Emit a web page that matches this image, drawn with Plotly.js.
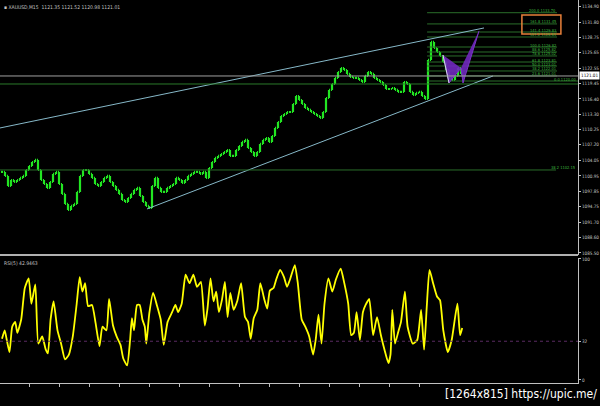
<!DOCTYPE html>
<html>
<head>
<meta charset="utf-8">
<script src="https://cdn.plot.ly/plotly-3.0.1.min.js"></script>
<style>html,body{margin:0;padding:0;background:#000;}#chart{width:600px;height:406px;}</style>
</head>
<body>
<div id="chart"></div>
<script>
// ---- data ----
const closes = [
1101.75,1100.95,1098.94,1100.14,1099.74,1100.14,1100.55,1100.95,1102.15,1102.95,
1103.75,1104.16,1102.15,1100.14,1099.34,1098.54,1099.74,1101.35,1101.75,1099.34,
1097.34,1095.33,1094.13,1094.93,1095.33,1097.74,1100.95,1102.15,1102.15,1101.35,
1100.55,1099.34,1098.94,1099.74,1100.55,1100.95,1099.74,1098.94,1098.14,1097.34,
1096.13,1095.73,1096.53,1097.34,1098.14,1098.54,1096.93,1095.73,1094.93,1094.53,
1098.94,1100.55,1098.54,1097.74,1097.74,1098.54,1098.94,1099.34,1100.55,1100.14,
1099.54,1100.14,1100.95,1101.35,1101.75,1101.75,1101.35,1101.75,1100.55,1102.55,
1103.75,1104.56,1104.96,1105.36,1105.76,1106.16,1104.96,1104.96,1106.16,1106.96,
1107.77,1108.17,1106.56,1105.76,1104.96,1105.76,1107.37,1108.17,1108.57,1107.77,
1108.97,1110.58,1111.78,1112.98,1113.38,1113.78,1113.78,1115.39,1116.99,1116.19,
1115.39,1114.59,1114.19,1113.78,1113.38,1112.98,1112.58,1113.78,1116.59,1118.20,
1119.40,1120.61,1121.81,1122.61,1122.21,1121.41,1120.81,1120.61,1120.61,1120.20,
1119.80,1121.01,1121.81,1121.41,1120.61,1120.20,1119.80,1119.20,1118.40,1118.40,
1118.60,1118.20,1117.80,1117.80,1119.80,1119.40,1117.80,1117.19,1117.60,1117.80,
1116.99,1116.39,1124.22,1127.83,1126.62,1125.82,1125.02,1123.81,1122.21,1120.61,
1120.20,1121.01,1122.61,1121.41];

const rsiBar = [
0,0.9,1.6,2.5,3.4,4.4,5.1,6.4,7.6,8.9,
9.8,11.1,12.1,13.4,14.6,15.3,16.2,17.2,18.5,19.7,
21,22.3,23.6,24.9,25.9,26.8,27.7,28.7,30,31.2,
32.5,33.5,34.8,35.7,37,38.2,39.5,40.4,41.7,42.7,
43.3,44,45,45.9,46.8,47.6,48.1,49.1,50.4,51.6,
52.9,53.9,55.2,56.7,57.8,58.7,59.9,61.2,62.5,63.8,
65,66.3,67.6,68.5,69.5,70.5,71.4,72.3,73.3,74.3,
75.2,76.1,77.2,78.4,79.7,81,82,82.9,83.9,85.1,
86.1,87.4,88.4,89.3,90.5,91.4,92.7,94,95,96,
97.6,98.6,99.9,101.1,102.4,103.7,104.6,105.5,106.5,107.5,
108.8,110.1,111.3,112.9,114.1,115.4,116.4,117.3,118.2,119.3,
120.3,121.2,122.4,123.7,125,126.3,127.5,128.8,129.5,130.1,
131,132,133,134.3,135.2,136.9,138.4,139.7,140.7,141.6,
142.5,143.7,145,146,147.1,148.6,149.9,151.8,152.7,153.4];
const rsiVal = [
34,41,33,23,44,48,39,50,76,84,
63,79,30,36,25,22,50,65,41,30,
17,21,36,63,85,73,80,61,62,47,
28,44,41,67,45,36,29,18,12,33,
51,41,62,62,50,44,30,55,72,62,
50,29,48,56,62,56,63,87,80,87,
77,81,45,59,84,65,73,56,66,81,
52,72,58,65,80,52,48,34,51,58,
80,67,59,74,76,83,91,85,77,83,
95,80,50,44,36,21,34,54,30,63,
84,73,83,92,80,63,37,39,56,33,
56,62,67,37,52,37,25,14,21,58,
30,39,48,73,44,30,33,58,25,61,
91,80,69,66,41,23,33,63,37,42.95];

const priceTicks = [1134.90,1131.80,1128.75,1125.65,1122.55,1119.45,1116.40,1113.30,1110.25,
  1107.20,1104.05,1100.95,1097.85,1094.75,1091.70,1088.60,1085.50];
const rsiTicks = [0,32,100];

const chanUpperX = [-0.67,160.67], chanUpperY = [1110.58,1130.64];
const chanLowerX = [48.33,163.67], chanLowerY = [1094.33,1121.01];

const fibNames  = ['200.0','161.8','141.4','127.2','100.0','88.6','78.6','61.8','50.0','38.2','23.6'];
const fibPrices = [1133.70,1131.45,1129.83,1128.83,1126.82,1125.82,1125.02,1123.81,1123.01,1122.01,1121.01];
const fibZeroName = '0.0', fibZeroPrice = 1120.00;
const fibStart = 141.7, fibEnd = 185;

const bidPrice = 1121.01;
const levelGreen = 1119.40;
const level382 = 1102.15;

const patX1 = [147,149,153], patY1 = [1125.22,1119.60,1122.61];
const patX2 = [153,153.67,159], patY2 = [1122.61,1119.60,1130.03];
const boxX = [173.3,186.3], boxY = [1129.43,1133.24];

// ---- build ----
const idx = closes.map((_, i) => i);
const opens = closes.map((c, i) => i === 0 ? c : closes[i - 1]);
const highs = closes.map((c, i) => Math.max(c, opens[i]));
const lows = closes.map((c, i) => Math.min(c, opens[i]));

const GREEN = '#22e622';
const traces = [];
traces.push({type:'ohlc', x:idx, open:opens, high:highs, low:lows, close:closes, xaxis:'x', yaxis:'y',
  increasing:{line:{color:GREEN,width:2.2}}, decreasing:{line:{color:GREEN,width:2.2}}, tickwidth:0.35, hoverinfo:'skip'});

const fibX = [], fibY = [];
fibPrices.forEach(p => { fibX.push(fibStart, fibEnd, null); fibY.push(p, p, null); });
traces.push({type:'scatter', mode:'lines', x:fibX, y:fibY, line:{color:'#2a6e2a',width:1}, xaxis:'x', yaxis:'y', hoverinfo:'skip'});
traces.push({type:'scatter', mode:'lines', x:[fibStart,192], y:[fibZeroPrice,fibZeroPrice], line:{color:'#2a6e2a',width:1}, xaxis:'x', yaxis:'y', hoverinfo:'skip'});

traces.push({type:'scatter', mode:'lines', x:chanUpperX, y:chanUpperY, line:{color:'#86b8c8',width:1}, xaxis:'x', yaxis:'y', hoverinfo:'skip'});
traces.push({type:'scatter', mode:'lines', x:chanLowerX, y:chanLowerY, line:{color:'#86b8c8',width:1}, xaxis:'x', yaxis:'y', hoverinfo:'skip'});

traces.push({type:'scatter', mode:'lines', x:patX1, y:patY1, fill:'toself', fillcolor:'rgba(112,40,190,0.9)', line:{color:'#7a34c8',width:1}, xaxis:'x', yaxis:'y', hoverinfo:'skip'});
traces.push({type:'scatter', mode:'lines', x:patX2, y:patY2, fill:'toself', fillcolor:'rgba(112,40,190,0.9)', line:{color:'#7a34c8',width:1}, xaxis:'x', yaxis:'y', hoverinfo:'skip'});
traces.push({type:'scatter', mode:'lines', x:patX1.slice(0,2), y:patY1.slice(0,2), line:{color:'#d8d8e8',width:1}, xaxis:'x', yaxis:'y', hoverinfo:'skip'});

traces.push({type:'scatter', mode:'lines', x:rsiBar, y:rsiVal, line:{color:'#ffff00',width:1.8,shape:'spline',smoothing:0.5}, xaxis:'x2', yaxis:'y2', hoverinfo:'skip'});

const xr = [-0.667, 192];
const AXFONT = 'DejaVu Sans Condensed, Liberation Sans Narrow, DejaVu Sans';
const tickFont = {family:AXFONT, size:4.6, color:'#c8c8c8'};
const fibFont = {family:AXFONT, size:4, color:'#3cb43c'};
const bottomTicks = [];
for (let k = 0; k < 14; k++) bottomTicks.push(9.33 + 10 * k);

const shapes = [
  {type:'line', xref:'paper', yref:'y', x0:0, x1:1, y0:bidPrice, y1:bidPrice, line:{color:'#a0a0a0',width:1}},
  {type:'line', xref:'paper', yref:'y', x0:0, x1:1, y0:levelGreen, y1:levelGreen, line:{color:'#2a7a2a',width:1}},
  {type:'line', xref:'paper', yref:'y', x0:0, x1:0.962, y0:level382, y1:level382, line:{color:'#2a6e2a',width:1}},
  {type:'rect', xref:'x', yref:'y', x0:boxX[0], x1:boxX[1], y0:boxY[0], y1:boxY[1], line:{color:'#e8803a',width:1.5}},
  {type:'line', xref:'paper', yref:'paper', x0:0, x1:1, y0:0.372, y1:0.372, line:{color:'#b0b0b0',width:2}},
  {type:'line', xref:'paper', yref:'y2', x0:0, x1:1, y0:32, y1:32, line:{color:'#5a2a62',width:1,dash:'dot'}}
];

const annotations = [];
fibNames.forEach((n, i) => annotations.push({xref:'x', yref:'y', x:fibEnd, y:fibPrices[i], xanchor:'right', yanchor:'bottom',
  text:n + ' ' + fibPrices[i].toFixed(2), showarrow:false, font:fibFont, yshift:-1.5, borderpad:0}));
annotations.push({xref:'paper', yref:'y', x:1, y:fibZeroPrice, xanchor:'right', yanchor:'bottom',
  text:fibZeroName + ' ' + fibZeroPrice.toFixed(2), showarrow:false, font:fibFont, yshift:-1.5, xshift:-1, borderpad:0});
annotations.push({xref:'paper', yref:'y', x:1, y:level382, xanchor:'right', yanchor:'bottom',
  text:'38.2 ' + level382.toFixed(2), showarrow:false, font:fibFont, yshift:-1.5, xshift:-2, borderpad:0});
annotations.push({xref:'paper', yref:'y', x:1, y:bidPrice, xanchor:'left', yanchor:'middle', xshift:1,
  text:bidPrice.toFixed(2), showarrow:false, bgcolor:'#ffffff', borderpad:1, font:{family:AXFONT,size:4.6,color:'#000000'}});
annotations.push({xref:'paper', yref:'paper', x:0, y:1, xanchor:'left', yanchor:'top', xshift:2, yshift:-2,
  text:'▪ XAUUSD,M15  1121.35 1121.52 1120.98 1121.01', showarrow:false, font:{family:AXFONT,size:5,color:'#c0c0c0'}});
annotations.push({xref:'paper', yref:'y2 domain', x:0, y:1, xanchor:'left', yanchor:'top', xshift:2, yshift:0,
  text:'RSI(5) 42.9463', showarrow:false, font:{family:AXFONT,size:5,color:'#c0c0c0'}});
annotations.push({xref:'paper', yref:'paper', x:600/578, y:0, xanchor:'right', yanchor:'bottom', xshift:-1, yshift:3,
  text:'[1264x815] https://upic.me/', showarrow:false, font:{family:'DejaVu Sans Condensed, Liberation Sans Narrow, sans-serif',size:12,color:'#ffffff'}});

const layout = {
  width:600, height:406, margin:{l:0,r:22,t:0,b:0},
  paper_bgcolor:'#000', plot_bgcolor:'#000', showlegend:false, dragmode:false,
  xaxis:{domain:[0,1], range:xr, anchor:'y', showticklabels:false, showgrid:false, zeroline:false, ticks:'', fixedrange:true, rangeslider:{visible:false}},
  yaxis:{domain:[0.372,1], range:[1085.1,1136.25], anchor:'x', side:'right', tickvals:priceTicks, ticktext:priceTicks.map(v => v.toFixed(2)),
    tickfont:tickFont, ticks:'outside', ticklen:2, tickcolor:'#c0c0c0', showline:true, linecolor:'#c0c0c0', linewidth:1, showgrid:false, zeroline:false, fixedrange:true},
  xaxis2:{domain:[0,1], range:xr, anchor:'y2', showticklabels:false, tickvals:bottomTicks, ticks:'outside', ticklen:3, tickcolor:'#c0c0c0',
    showline:true, linecolor:'#c0c0c0', linewidth:1, showgrid:false, zeroline:false, fixedrange:true},
  yaxis2:{domain:[0.0567,0.3645], range:[-2.5,100.8], anchor:'x2', side:'right', tickvals:rsiTicks, ticktext:rsiTicks.map(String),
    tickfont:tickFont, ticks:'outside', ticklen:2, tickcolor:'#c0c0c0', showline:true, linecolor:'#c0c0c0', linewidth:1, showgrid:false, zeroline:false, fixedrange:true},
  shapes:shapes, annotations:annotations
};

Plotly.newPlot('chart', traces, layout, {staticPlot:true, displayModeBar:false});
</script>
</body>
</html>
